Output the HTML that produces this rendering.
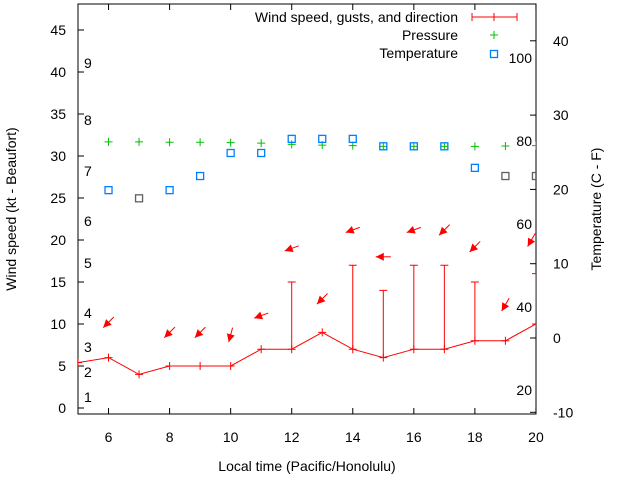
<!DOCTYPE html>
<html><head><meta charset="utf-8"><style>
body{margin:0;background:#fff;}
svg{display:block;font-family:"Liberation Sans",sans-serif;font-size:14px;}
</style></head><body>
<svg id="chart" width="640" height="480" viewBox="0 0 640 480"></svg>
<script>
const hours=[5,6,7,8,9,10,11,12,13,14,15,16,17,18,19,20];
const wind=[5.4,6,4,5,5,5,7,7,9,7,6,7,7,8,8,10];
const gusts=[null,null,null,null,null,null,null,15,null,17,14,17,17,15,null,16];
const arrowHours=[6,8,9,10,11,12,13,14,15,16,17,18,19,19.85];
const arrowPos=[10.2,9,9,8.7,11,19,13,21.2,18,21.2,21.2,19.2,12.3,20];
const arrowDir=[45,45,45,15,70,70,45,70,90,70,45,45,30,30];
const pHours=[6,7,8,9,10,11,12,13,14,15,16,17,18,19,20];
const pressure=[79.8,79.8,79.7,79.7,79.6,79.5,79.2,79,78.9,78.7,78.7,78.7,78.7,78.8,78.9];
const temp=[19.9,18.8,19.9,21.8,24.9,24.9,26.8,26.8,26.8,25.8,25.8,25.8,22.9,21.8,21.8];
const tempGray=[false,true,false,false,false,false,false,false,false,false,false,false,false,true,true];
const leftTicks=[0,5,10,15,20,25,30,35,40,45];
const xTicks=[6,8,10,12,14,16,18,20];
const rightTicks=[-10,0,10,20,30,40];
const beaufort=[[1,397],[2,372],[3,347],[4,313],[5,263],[6,221],[7,171],[8,120],[9,63]];
const presLabels=[100,80,60,40,20];

const L=78,R=536,T=4,B=414;
const X=h=>L+(h-5)*30.53;
const Y=v=>408-v*8.4;
const YT=v=>338-v*7.43;
const YP=v=>141-(v-80)*4.15;
const svg=document.getElementById('chart');
const NS='http://www.w3.org/2000/svg';
function mk(tag,attrs,parent){const e=document.createElementNS(NS,tag);for(const k in attrs)e.setAttribute(k,attrs[k]);(parent||svg).appendChild(e);return e;}
function txt(x,y,s,anchor,name,extra){const t=mk('text',Object.assign({x:x,y:y,'text-anchor':anchor||'start',fill:'#000'},extra||{}));t.textContent=s;


return t;}

const fr=mk('rect',{x:L,y:T,width:R-L,height:B-T,fill:'none',stroke:'#000','stroke-width':1});



leftTicks.forEach(v=>{const y=Y(v);mk('line',{x1:L,x2:L+6,y1:y,y2:y,stroke:'#000'});txt(66,y+5,String(v),'end','y-tick-label');});
xTicks.forEach(v=>{const x=X(v);mk('line',{x1:x,x2:x,y1:B,y2:B-6,stroke:'#000'});mk('line',{x1:x,x2:x,y1:T,y2:T+6,stroke:'#000'});txt(x,442,String(v),'middle','x-tick-label');});
rightTicks.forEach(v=>{const y=YT(v);mk('line',{x1:R,x2:R-6,y1:y,y2:y,stroke:'#000'});txt(553,y+5,String(v),'start','y2-tick-label');});
beaufort.forEach(b=>txt(84,b[1]+5,String(b[0]),'start','beaufort-label'));
presLabels.forEach(v=>txt(532,YP(v)+5,String(v),'end','pressure-label'));

txt(307,471,'Local time (Pacific/Honolulu)','middle','x-axis-title');
txt(0,0,'Wind speed (kt - Beaufort)','middle','y-axis-title',{transform:'translate(16,209) rotate(-90)'});
txt(0,0,'Temperature (C - F)','middle','y2-axis-title',{transform:'translate(601,209) rotate(-90)'});

const g=mk('g',{});g.setAttribute('clip-path','url(#clip)');
const cp=mk('clipPath',{id:'clip'});mk('rect',{x:L,y:T,width:R-L,height:B-T},cp);
const wl=mk('polyline',{points:hours.map((h,i)=>X(h)+','+Y(wind[i])).join(' '),fill:'none',stroke:'#f00','stroke-width':1},g);


hours.forEach((h,i)=>{const x=X(h),y=Y(wind[i]);
 mk('path',{d:`M${x-4},${y}h8M${x},${y-4}v8`,stroke:'#f00'},g);
 if(gusts[i]!=null){const gy=Y(gusts[i]);const e=mk('path',{d:`M${x},${y}V${gy}M${x-4},${gy}h8`,stroke:'#f00',fill:'none'},g);
 
 }
});
arrowHours.forEach((h,i)=>{const cx=X(h),cy=Y(arrowPos[i]);const a=arrowDir[i]*Math.PI/180;
 const dx=-Math.sin(a),dy=Math.cos(a);const len=15;
 const tx=cx-dx*len/2,ty=cy-dy*len/2,hx=cx+dx*len/2,hy=cy+dy*len/2;
 const px=-dy,py=dx;
 const ag=mk('g',{},g);
 
 
 mk('line',{x1:tx,y1:ty,x2:hx,y2:hy,stroke:'#f00'},ag);
 mk('polygon',{points:`${hx},${hy} ${hx-dx*8+px*4},${hy-dy*8+py*4} ${hx-dx*8-px*4},${hy-dy*8-py*4}`,fill:'#f00'},ag);
});
pHours.forEach((h,i)=>{const x=X(h),y=YP(pressure[i]);const p=mk('path',{d:`M${x-4},${y}h8M${x},${y-4}v8`,stroke:'#00c000'},g);
 
 });
pHours.forEach((h,i)=>{const x=X(h),y=YT(temp[i]);const r=mk('rect',{x:x-3.5,y:y-3.5,width:7,height:7,fill:'none',stroke:tempGray[i]?'#606060':'#0080ff','stroke-width':1.3},g);
 
 });

const lg=mk('g',{});
txt(458,22,'Wind speed, gusts, and direction','end','legend-wind');
mk('path',{d:'M472,17h45M472,13v8M517,13v8M494,13v8',stroke:'#f00'},lg);
txt(458,40,'Pressure','end','legend-pressure');
mk('path',{d:'M490,35h8M494,31v8',stroke:'#00c000'},lg);
txt(458,58,'Temperature','end','legend-temperature');
mk('rect',{x:490.5,y:50.5,width:7,height:7,fill:'none',stroke:'#0080ff','stroke-width':1.3},lg);
</script>
</body></html>
